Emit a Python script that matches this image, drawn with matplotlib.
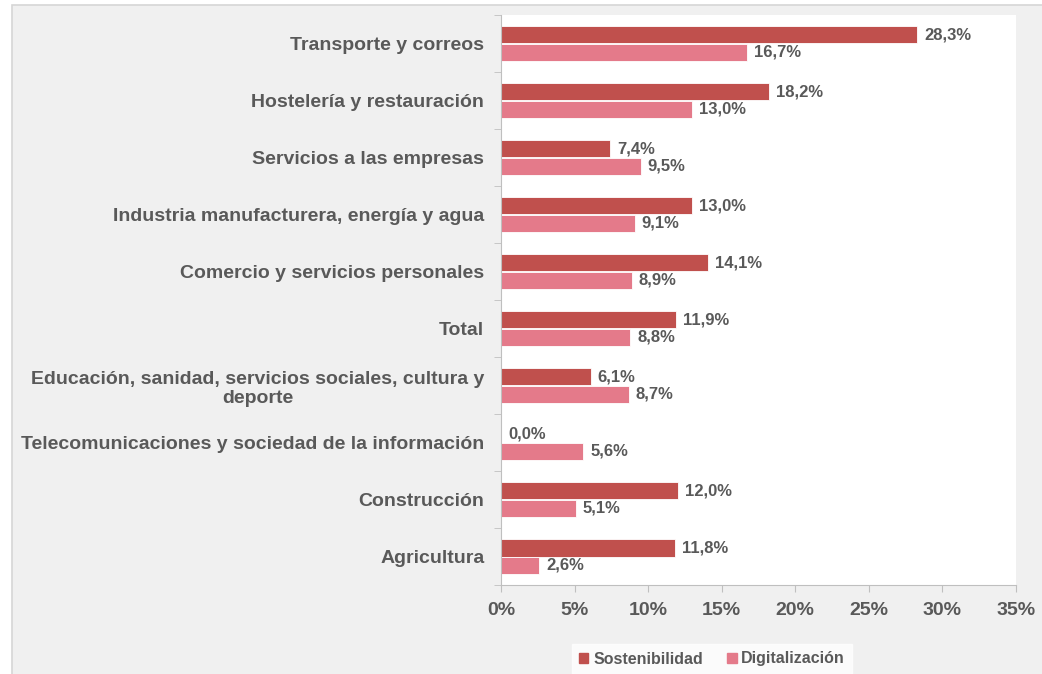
import matplotlib
matplotlib.use("Agg")
import matplotlib.pyplot as plt
from matplotlib.patches import Rectangle, Patch
import numpy as np

plt.rcParams['font.family'] = ['Liberation Sans', 'DejaVu Sans']

sectores = ["Transporte y correos", "Hostelería y restauración", "Servicios a las empresas",
            "Industria manufacturera, energía y agua", "Comercio y servicios personales", "Total",
            "Educación, sanidad, servicios sociales, cultura y\ndeporte",
            "Telecomunicaciones y sociedad de la información", "Construcción", "Agricultura"]
sostenibilidad = [28.3, 18.2, 7.4, 13.0, 14.1, 11.9, 6.1, 0.0, 12.0, 11.8]
digitalizacion = [16.7, 13.0, 9.5, 9.1, 8.9, 8.8, 8.7, 5.6, 5.1, 2.6]
ticks = [0, 5, 10, 15, 20, 25, 30, 35]

c_sost = "#c0504d"
c_dig = "#e47a8a"
txt = "#595959"

fig = plt.figure(figsize=(10.42, 6.74), dpi=100, facecolor="white")
fig.patches.append(Rectangle((12/1042, -0.01), 1.0, 1 - 5/674 + 0.01, transform=fig.transFigure,
                             facecolor="#f0f0f0", edgecolor="#d6d6d6", lw=1.2, zorder=-1))
ax = fig.add_axes([501/1042, 1 - 585/674, (1016 - 501)/1042, (585 - 15)/674])
ax.set_facecolor("white")

y = np.arange(len(sectores))
h = 0.3
ax.barh(y - 0.15, sostenibilidad, height=h, color=c_sost, edgecolor="white", lw=0.6)
ax.barh(y + 0.15, digitalizacion, height=h, color=c_dig, edgecolor="white", lw=0.6)

for i in range(len(sectores)):
    ax.annotate(f"{sostenibilidad[i]:.1f}%".replace(".", ","), (sostenibilidad[i], y[i] - 0.15),
                xytext=(5, 0), textcoords="offset points", va="center", ha="left",
                fontsize=12, fontweight="bold", color=txt)
    ax.annotate(f"{digitalizacion[i]:.1f}%".replace(".", ","), (digitalizacion[i], y[i] + 0.15),
                xytext=(5, 0), textcoords="offset points", va="center", ha="left",
                fontsize=12, fontweight="bold", color=txt)

ax.set_xlim(0, 35)
ax.set_ylim(len(sectores) - 0.5, -0.5)
ax.set_xticks(ticks)
ax.set_xticklabels([f"{t}%" for t in ticks], fontsize=14, fontweight="bold", color=txt)
ax.set_yticks(y)
ax.set_yticklabels(sectores, fontsize=14, fontweight="bold", color=txt, multialignment="center")
ax.tick_params(axis="y", length=0, pad=12)
ax.set_yticks(np.arange(len(sectores) + 1) - 0.5, minor=True)
ax.tick_params(axis="y", which="minor", length=5, color="#bfbfbf")
ax.tick_params(axis="x", length=5, color="#bfbfbf", pad=7)
for s in ["top", "right"]:
    ax.spines[s].set_visible(False)
for s in ["left", "bottom"]:
    ax.spines[s].set_color("#bfbfbf")

handles = [Patch(color=c_sost, label="Sostenibilidad"), Patch(color=c_dig, label="Digitalización")]
leg = fig.legend(handles=handles, loc="center", bbox_to_anchor=(712/1042, 1 - 659/674), ncol=2,
                 frameon=True, fancybox=False, handlelength=0.6, handleheight=0.6, handletextpad=0.3,
                 columnspacing=1.5, borderpad=0.45, prop={"size": 11.5, "weight": "bold"})
leg.get_frame().set_facecolor("white")
leg.get_frame().set_edgecolor("white")
for t in leg.get_texts():
    t.set_color(txt)

fig.savefig("out.png", dpi=100, facecolor=fig.get_facecolor())
